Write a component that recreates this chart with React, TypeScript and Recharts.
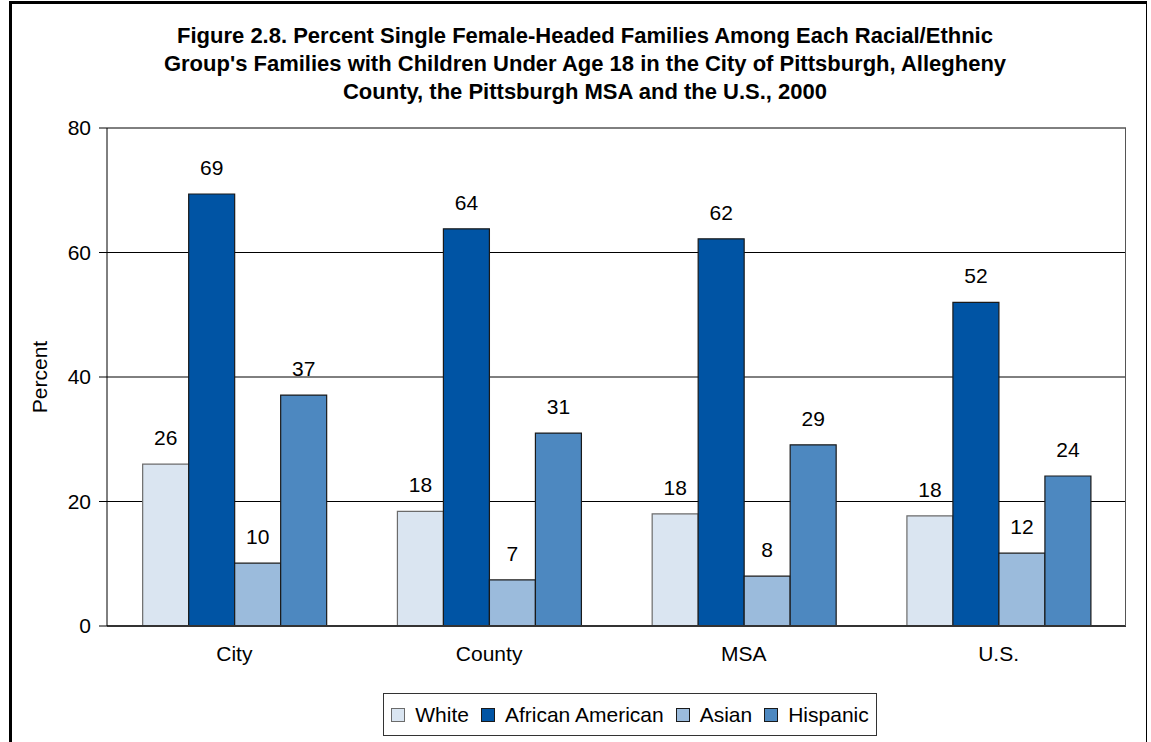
import React from 'react'
import { BarChart, Bar, XAxis, YAxis, CartesianGrid, LabelList } from 'recharts'

const places = ['City', 'County', 'MSA', 'U.S.']
const white = [26.0, 18.4, 18.0, 17.7]
const africanAmerican = [69.4, 63.8, 62.2, 52.0]
const asian = [10.1, 7.4, 8.0, 11.7]
const hispanic = [37.1, 31.0, 29.1, 24.1]
const yTicks = [0, 20, 40, 60, 80]
const edgeTicks = [0, 1, 2, 3, 4]

const series = [
  { key: 'White', fill: '#dae5f1', stroke: '#6b6b6b' },
  { key: 'African American', fill: '#0054a4', stroke: '#1a1a1a' },
  { key: 'Asian', fill: '#9bbbdc', stroke: '#1a1a1a' },
  { key: 'Hispanic', fill: '#4d88c0', stroke: '#1a1a1a' },
]

const data = places.map((place, i) => ({
  place,
  White: white[i],
  'African American': africanAmerican[i],
  Asian: asian[i],
  Hispanic: hispanic[i],
}))

const font = '"Liberation Sans", Arial, sans-serif'

export default function App() {
  return (
    <div style={{ position: 'absolute', left: 0, top: 0, width: 1151, height: 742, background: '#fff', fontFamily: font }}>
      <div style={{ position: 'absolute', left: 9, top: 1, width: 1138, height: 760, border: '3px solid #000', borderRight: '1px solid #000', boxSizing: 'border-box' }} />
      <div style={{ position: 'absolute', left: 0, width: 1170, top: 22, textAlign: 'center', fontWeight: 'bold', fontSize: 22, lineHeight: '28px', color: '#000' }}>
        Figure 2.8. Percent Single Female-Headed Families Among Each Racial/Ethnic<br />
        Group's Families with Children Under Age 18 in the City of Pittsburgh, Allegheny<br />
        County, the Pittsburgh MSA and the U.S., 2000
      </div>
      <div style={{ position: 'absolute', left: 0, top: 0 }}>
        <BarChart
          width={1151}
          height={742}
          data={data}
          margin={{ top: 128, right: 25, bottom: 76, left: 0 }}
          barCategoryGap="14%"
          barGap={0}
        >
          <CartesianGrid vertical={false} stroke="#000" strokeWidth={1} />
          <XAxis
            xAxisId="edge"
            type="number"
            domain={[0, 4]}
            ticks={edgeTicks}
            tick={false}
            tickSize={7}
            height={0}
            axisLine={false}
            tickLine={{ stroke: '#555' }}
          />
          <XAxis
            xAxisId="cat"
            dataKey="place"
            height={40}
            axisLine={{ stroke: '#333', strokeWidth: 2 }}
            tickLine={false}
            tickSize={8}
            tickMargin={12}
            tick={{ fill: '#000', fontSize: 21, fontFamily: font }}
          />
          <YAxis
            width={107}
            domain={[0, 80]}
            ticks={yTicks}
            axisLine={{ stroke: '#000' }}
            tickLine={{ stroke: '#000' }}
            tickSize={8}
            tickMargin={8}
            tick={{ fill: '#000', fontSize: 21, fontFamily: font }}
            label={{ value: 'Percent', angle: -90, position: 'insideLeft', offset: 40, style: { fill: '#000', fontSize: 21, fontFamily: font, textAnchor: 'middle' } }}
          />
          {series.map((s) => (
            <Bar key={s.key} dataKey={s.key} xAxisId="cat" fill={s.fill} stroke={s.stroke} strokeWidth={1.2} isAnimationActive={false}>
              <LabelList
                dataKey={s.key}
                position="top"
                offset={19}
                formatter={(v: any) => Math.round(Number(v))}
                style={{ fill: '#000', fontSize: 21, fontFamily: font }}
              />
            </Bar>
          ))}
        </BarChart>
      </div>
      <div style={{ position: 'absolute', left: 1125, top: 128, width: 1, height: 498, background: '#555' }} />
      <div
        style={{
          position: 'absolute', left: 383, top: 693, width: 494, height: 43, boxSizing: 'border-box',
          border: '1px solid #333', display: 'flex', alignItems: 'center', justifyContent: 'center', gap: 12, fontSize: 21, color: '#000',
        }}
      >
        {series.map((s) => (
          <span key={s.key} style={{ display: 'flex', alignItems: 'center' }}>
            <span style={{ display: 'inline-block', width: 12, height: 12, background: s.fill, border: `1px solid ${s.stroke}`, marginRight: 10 }} />
            {s.key}
          </span>
        ))}
      </div>
    </div>
  )
}
